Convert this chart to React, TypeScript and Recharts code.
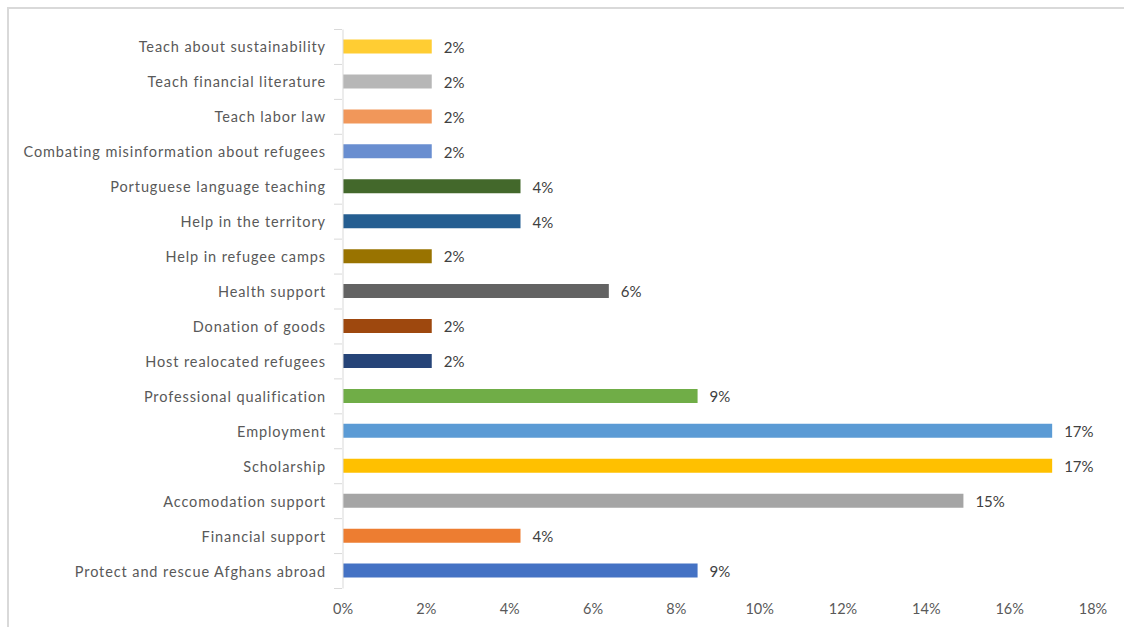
import { BarChart, Bar, XAxis, YAxis, Cell, LabelList } from "recharts"

// top to bottom, as shown
const categories = [
  "Teach about sustainability",
  "Teach financial literature",
  "Teach labor law",
  "Combating misinformation about refugees",
  "Portuguese language teaching",
  "Help in the territory",
  "Help in refugee camps",
  "Health support",
  "Donation of goods",
  "Host realocated refugees",
  "Professional qualification",
  "Employment",
  "Scholarship",
  "Accomodation support",
  "Financial support",
  "Protect and rescue Afghans abroad",
]

const shares = [2.13, 2.13, 2.13, 2.13, 4.26, 4.26, 2.13, 6.38, 2.13, 2.13, 8.51, 17.02, 17.02, 14.89, 4.26, 8.51]

const barColors = [
  "#FFCD33", "#B7B7B7", "#F1975A", "#698ED0", "#43682B", "#255E91", "#997300", "#636363",
  "#9E480E", "#264478", "#70AD47", "#5B9BD5", "#FFC000", "#A5A5A5", "#ED7D31", "#4472C4",
]

const xTicks = [0, 2, 4, 6, 8, 10, 12, 14, 16, 18]

const data = categories.map((name, i) => ({ name, value: shares[i] }))

const FONT = "Lato, 'Open Sans', sans-serif"
const TOP = 29.5
const PLOT_H = 559
const BAND = PLOT_H / categories.length

const CategoryTick = (props: any) => {
  const { x, y, payload, index } = props
  return (
    <g>
      {index === 0 && <line x1={x - 1} x2={x + 7} y1={y - BAND / 2} y2={y - BAND / 2} stroke="#d9d9d9" />}
      <line x1={x - 1} x2={x + 7} y1={y + BAND / 2} y2={y + BAND / 2} stroke="#d9d9d9" />
      <text
        x={x - 9}
        y={y}
        textAnchor="end"
        dominantBaseline="central"
        fill="#595959"
        fontSize={14.5}
        letterSpacing={0.9}
        fontFamily={FONT}
      >
        {payload.value}
      </text>
    </g>
  )
}

export default function App() {
  return (
    <div style={{ position: "absolute", left: 0, top: 0, width: 1124, height: 627, background: "#fff" }}>
      <div
        style={{
          position: "absolute",
          left: 7,
          top: 7,
          width: 1117,
          height: 620,
          borderTop: "2px solid #d9d9d9",
          borderLeft: "2px solid #d9d9d9",
          boxSizing: "border-box",
        }}
      />
      <BarChart
        width={1124}
        height={627}
        data={data}
        layout="vertical"
        margin={{ top: TOP, right: 31, bottom: 627 - TOP - PLOT_H - 30, left: 0 }}
        style={{ position: "absolute", left: 0, top: 0 }}
      >
        <XAxis
          type="number"
          domain={[0, 18]}
          ticks={xTicks}
          axisLine={false}
          tickLine={false}
          height={30}
          tickFormatter={(v: number) => `${v}%`}
          tick={{ fill: "#595959", fontSize: 14.5, fontFamily: FONT }}
          interval={0}
          tickMargin={9}
        />
        <YAxis
          type="category"
          dataKey="name"
          width={343}
          axisLine={{ stroke: "#d9d9d9" }}
          tickLine={false}
          tick={<CategoryTick />}
          interval={0}
        />
        <Bar dataKey="value" barSize={14} isAnimationActive={false}>
          {data.map((_, i) => (
            <Cell key={i} fill={barColors[i]} />
          ))}
          <LabelList
            dataKey="value"
            position="right"
            offset={12}
            formatter={(v: any) => `${Math.round(v)}%`}
            style={{ fill: "#404040", fontSize: 15, fontFamily: FONT, transform: "translateY(1px)" }}
          />
        </Bar>
      </BarChart>
    </div>
  )
}
